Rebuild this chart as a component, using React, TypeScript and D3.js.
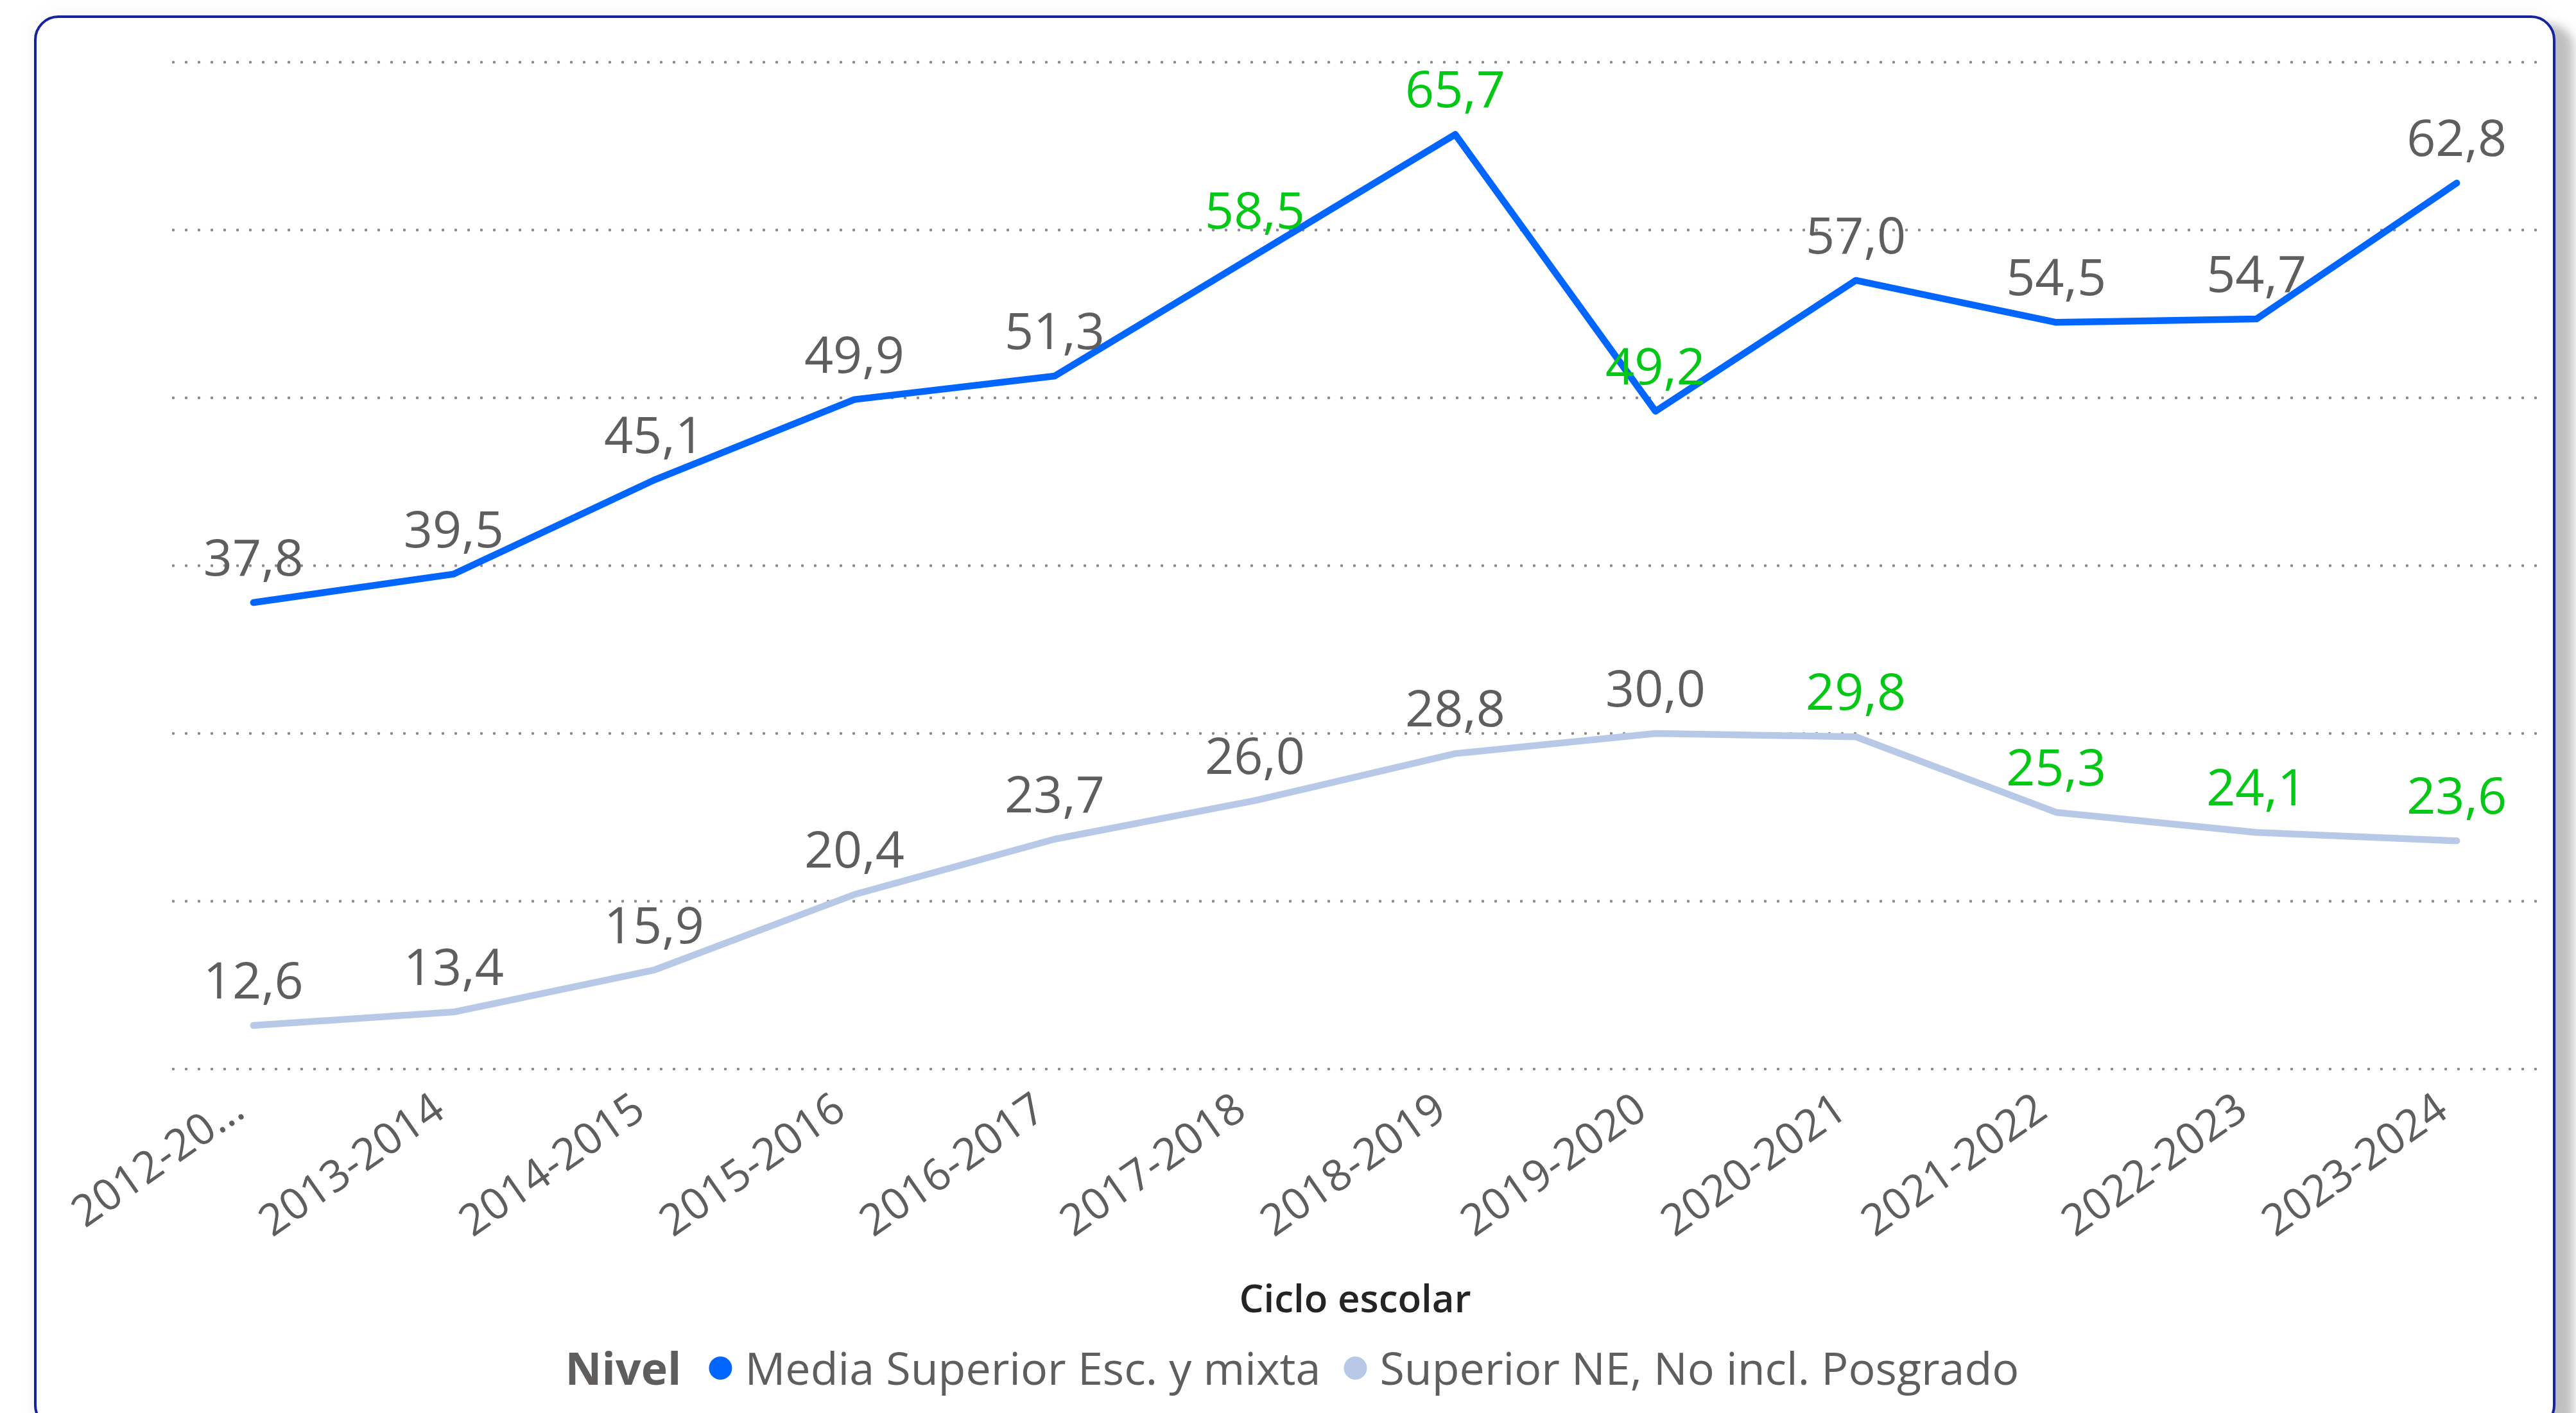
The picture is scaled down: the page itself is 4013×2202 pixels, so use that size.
import React, { useMemo } from "react";
import * as d3 from "d3";

// ---------- data ----------
const categories = [
  "2012-2013", "2013-2014", "2014-2015", "2015-2016", "2016-2017", "2017-2018",
  "2018-2019", "2019-2020", "2020-2021", "2021-2022", "2022-2023", "2023-2024",
];
const tickLabels = [
  "2012-20…", "2013-2014", "2014-2015", "2015-2016", "2016-2017", "2017-2018",
  "2018-2019", "2019-2020", "2020-2021", "2021-2022", "2022-2023", "2023-2024",
];
const mediaSuperior = [37.8, 39.5, 45.1, 49.9, 51.3, 58.5, 65.7, 49.2, 57.0, 54.5, 54.7, 62.8];
const superiorNE = [12.6, 13.4, 15.9, 20.4, 23.7, 26.0, 28.8, 30.0, 29.8, 25.3, 24.1, 23.6];
const mediaHighlight = [false, false, false, false, false, true, true, true, false, false, false, false];
const superiorHighlight = [false, false, false, false, false, false, false, false, true, true, true, true];
const yTicks = [10, 20, 30, 40, 50, 60, 70];
const seriesNames = ["Media Superior Esc. y mixta", "Superior NE, No incl. Posgrado"];
const legendTitle = "Nivel";
const xTitle = "Ciclo escolar";

// ---------- styles ----------
const W = 4013;
const H = 2202;
const FONT = "'Open Sans', 'Noto Sans', sans-serif";
const GREY = "#605E5C";
const GREEN = "#00C814";
const COLORS = ["#0066FF", "#B8C9E8"];

function measure(text: string, font: string): number {
  if (typeof document === "undefined") return text.length * 30;
  const c = document.createElement("canvas");
  const ctx = c.getContext("2d");
  if (!ctx) return text.length * 30;
  ctx.font = font;
  return ctx.measureText(text).width;
}

const fmt = (v: number) => v.toFixed(1).replace(".", ",");

export default function App() {
  const card = { x: 55, y: 26, w: 3924, h: 2200, r: 36 };
  const x = d3.scalePoint<string>().domain(categories).range([270, 3952]).padding(0.4);
  const y = d3.scaleLinear().domain([10, 70]).range([1666, 97]);

  const line = d3
    .line<number>()
    .x((_, i) => x(categories[i]) as number)
    .y((d) => y(d));

  const series = [
    { name: seriesNames[0], values: mediaSuperior, hl: mediaHighlight, color: COLORS[0] },
    { name: seriesNames[1], values: superiorNE, hl: superiorHighlight, color: COLORS[1] },
  ];

  const legend = useMemo(() => {
    const fs = 70;
    const titleW = measure(legendTitle, `bold ${fs}px 'Open Sans'`);
    const t1 = measure(seriesNames[0], `${fs}px 'Open Sans'`);
    const t2 = measure(seriesNames[1], `${fs}px 'Open Sans'`);
    const r = 18;
    const total = titleW + 43 + 2 * r + 20 + t1 + 36 + 2 * r + 20 + t2;
    const start = (card.x + card.x + card.w) / 2 - total / 2 - 4;
    const c1 = start + titleW + 43 + r;
    const s1 = c1 + r + 20;
    const c2 = s1 + t1 + 36 + r;
    const s2 = c2 + r + 20;
    return { fs, start, c1, s1, c2, s2, r };
  }, []);

  const plotCenter = ((x(categories[0]) as number) + (x(categories[categories.length - 1]) as number)) / 2;

  return (
    <svg
      width={W}
      height={H}
      viewBox={`0 0 ${W} ${H}`}
      style={{ position: "absolute", left: 0, top: 0, display: "block", background: "#ffffff" }}
      fontFamily={FONT}
    >
      <defs>
        <filter id="cardShadow" x="-5%" y="-5%" width="110%" height="110%">
          <feDropShadow dx="0" dy="0" stdDeviation="14" floodColor="#000" floodOpacity="0.06" />
          <feDropShadow dx="30" dy="12" stdDeviation="7" floodColor="#000" floodOpacity="0.24" />
        </filter>
      </defs>

      {/* card */}
      <rect
        x={card.x}
        y={card.y}
        width={card.w}
        height={card.h}
        rx={card.r}
        ry={card.r}
        fill="#ffffff"
        filter="url(#cardShadow)"
      />
      <rect
        x={card.x}
        y={card.y}
        width={card.w}
        height={card.h}
        rx={card.r}
        ry={card.r}
        fill="none"
        stroke="#15239E"
        strokeWidth={4}
      />

      {/* gridlines */}
      {yTicks.map((t) => (
        <line
          key={t}
          x1={270}
          x2={3955}
          y1={y(t)}
          y2={y(t)}
          stroke="#8C8C8C"
          strokeWidth={4.5}
          strokeLinecap="round"
          strokeDasharray="0 20"
        />
      ))}

      {/* lines */}
      {series
        .slice()
        .reverse()
        .map((s) => (
          <path
            key={s.name}
            d={line(s.values) || ""}
            fill="none"
            stroke={s.color}
            strokeWidth={10.5}
            strokeLinejoin="round"
            strokeLinecap="round"
          />
        ))}

      {/* data labels */}
      {series.map((s) =>
        s.values.map((v, i) => (
          <text
            key={s.name + i}
            x={x(categories[i]) as number}
            y={y(v) - 42}
            textAnchor="middle"
            fontSize={79}
            fill={s.hl[i] ? GREEN : GREY}
          >
            {fmt(v)}
          </text>
        ))
      )}

      {/* x tick labels */}
      {categories.map((c, i) => (
        <text
          key={c}
          transform={`translate(${(x(c) as number) - 38},${1698}) rotate(-35)`}
          textAnchor="end"
          dy="0.72em"
          fontSize={68}
          fill={GREY}
        >
          {tickLabels[i]}
        </text>
      ))}

      {/* x axis title */}
      <text x={plotCenter} y={2045} textAnchor="middle" fontSize={60} fontWeight={600} fill="#252423">
        {xTitle}
      </text>

      {/* legend */}
      <text x={legend.start} y={2158} fontSize={legend.fs} fontWeight={700} fill={GREY}>
        {legendTitle}
      </text>
      <circle cx={legend.c1} cy={2132} r={legend.r} fill={COLORS[0]} />
      <text x={legend.s1} y={2158} fontSize={legend.fs} fill={GREY}>
        {seriesNames[0]}
      </text>
      <circle cx={legend.c2} cy={2132} r={legend.r} fill={COLORS[1]} />
      <text x={legend.s2} y={2158} fontSize={legend.fs} fill={GREY}>
        {seriesNames[1]}
      </text>
    </svg>
  );
}
